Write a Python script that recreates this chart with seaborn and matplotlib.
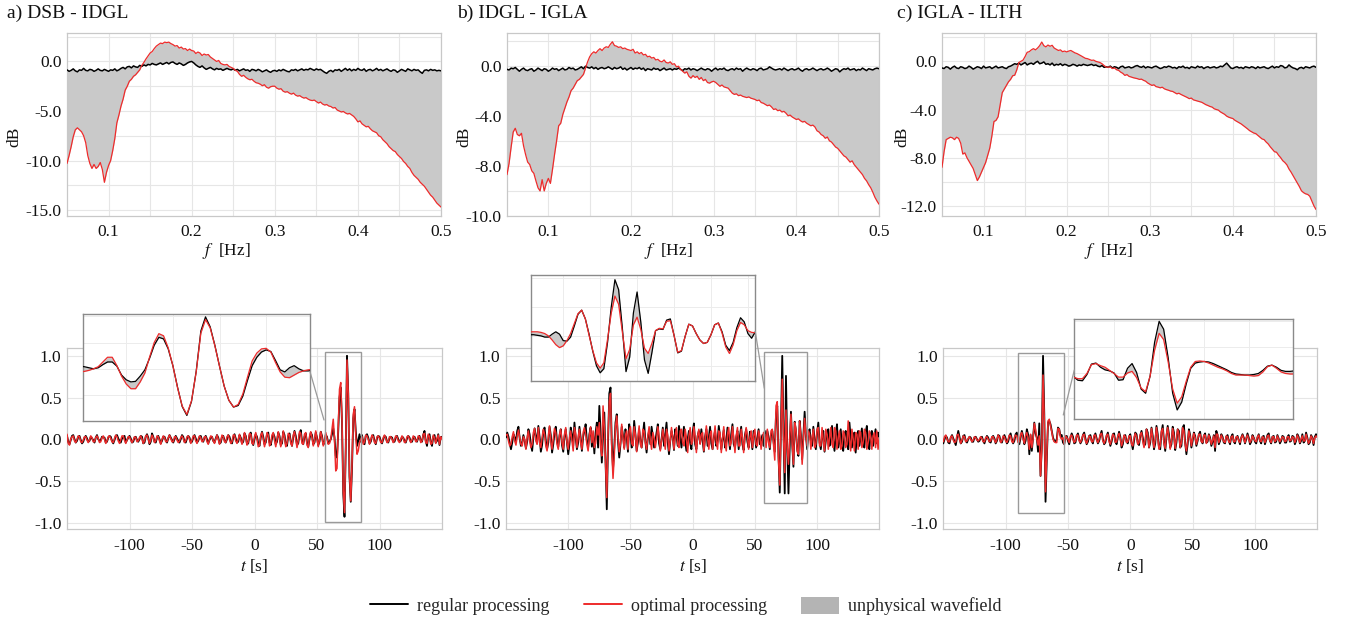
import numpy as np
import matplotlib
matplotlib.use("Agg")
import matplotlib.pyplot as plt
import seaborn as sns
from matplotlib.lines import Line2D
from matplotlib.patches import Patch, Rectangle

sns.set_theme(style="white")
plt.rcParams['font.family'] = ['Liberation Serif', 'DejaVu Serif']
plt.rcParams['mathtext.fontset'] = 'stix'
plt.rcParams['axes.unicode_minus'] = False

# ---------------- data ----------------
titles = ["a) DSB - IDGL", "b) IDGL - IGLA", "c) IGLA - ILTH"]
legend_labels = ["regular processing", "optimal processing", "unphysical wavefield"]

# spectra: frequency grid 0.05 .. 0.5 Hz, step 0.0025 Hz
f_start, f_step, f_count = 0.05, 0.0025, 181

spec_a_red = [
    -10.3, -9.5, -8.6, -7.6, -6.9, -6.7, -6.9, -7.1, -7.5, -8.2,
    -9.5, -10.3, -10.8, -10.4, -10.8, -10.6, -10.2, -10.9, -12.2, -11.2,
    -10.5, -10.0, -9.0, -7.8, -6.2, -5.4, -4.5, -3.8, -2.9, -2.5,
    -2.0, -1.8, -1.5, -1.35, -1.1, -0.85, -0.4, -0.1, 0.25, 0.55,
    0.85, 1.0, 1.3, 1.55, 1.7, 1.85, 1.8, 1.95, 1.9, 1.95,
    1.8, 1.7, 1.55, 1.6, 1.35, 1.45, 1.25, 1.3, 1.1, 1.25,
    1.1, 1.05, 0.8, 0.95, 0.85, 0.6, 0.75, 0.65, 0.7, 0.45,
    0.3, 0.15, 0.0, 0.1, -0.2, -0.3, -0.35, -0.3, -0.5, -0.6,
    -0.7, -0.9, -1.0, -1.3, -1.5, -1.4, -1.6, -1.75, -1.85, -1.8,
    -2.0, -2.15, -2.2, -2.3, -2.45, -2.35, -2.6, -2.7, -2.55, -2.5,
    -2.5, -2.7, -2.8, -2.75, -3.0, -3.1, -3.05, -3.2, -3.3, -3.2,
    -3.4, -3.5, -3.45, -3.6, -3.7, -3.65, -3.8, -3.9, -3.95, -3.9,
    -4.05, -4.2, -4.1, -4.3, -4.4, -4.35, -4.5, -4.55, -4.7, -4.65,
    -4.9, -5.0, -5.1, -5.05, -5.2, -5.3, -5.25, -5.4, -5.55, -5.8,
    -6.1, -6.0, -6.3, -6.45, -6.6, -6.55, -6.8, -7.0, -7.1, -7.2,
    -7.5, -7.6, -7.9, -8.1, -8.3, -8.6, -8.8, -9.0, -9.1, -9.4,
    -9.6, -9.8, -10.1, -10.3, -10.6, -10.8, -11.2, -11.5, -11.7, -11.9,
    -12.2, -12.4, -12.6, -12.9, -13.2, -13.5, -13.7, -14.0, -14.3, -14.5,
    -14.7]
spec_a_black = [
    -0.85, -1.0, -0.9, -0.75, -0.95, -1.05, -0.85, -0.9, -0.7, -0.9,
    -0.95, -0.8, -0.85, -1.0, -0.9, -0.75, -0.9, -0.95, -0.8, -0.9,
    -1.0, -0.85, -0.9, -0.75, -0.95, -0.85, -0.7, -0.6, -0.75, -0.55,
    -0.5, -0.65, -0.45, -0.55, -0.6, -0.4, -0.5, -0.35, -0.45, -0.3,
    -0.35, -0.2, -0.3, -0.35, -0.25, -0.15, -0.3, -0.2, -0.1, -0.25,
    -0.1, -0.05, -0.2, -0.3, -0.15, -0.25, -0.4, -0.3, -0.15, -0.05,
    0.0, -0.15, -0.35, -0.5, -0.6, -0.45, -0.65, -0.8, -0.7, -0.6,
    -0.75, -0.85, -0.7, -0.8, -0.75, -0.9, -0.8, -0.7, -0.8, -0.85,
    -0.75, -0.9, -0.8, -0.95, -0.85, -0.75, -0.9, -0.85, -1.0, -0.8,
    -0.85, -0.95, -0.8, -0.9, -1.05, -0.95, -0.85, -1.0, -1.1, -0.95,
    -0.9, -1.0, -0.85, -0.95, -0.8, -0.9, -1.0, -1.05, -0.85, -0.9,
    -0.8, -0.95, -0.85, -0.75, -0.9, -0.8, -0.85, -0.7, -0.8, -0.9,
    -0.75, -0.85, -0.8, -0.95, -1.1, -1.2, -1.0, -0.9, -1.05, -0.85,
    -0.9, -0.8, -1.0, -0.85, -0.7, -0.9, -0.75, -0.95, -0.8, -0.9,
    -0.7, -0.85, -0.9, -0.75, -1.0, -0.85, -0.8, -0.95, -0.85, -0.7,
    -0.9, -0.8, -0.95, -0.85, -0.75, -0.9, -1.0, -0.85, -0.9, -1.1,
    -0.95, -0.8, -0.9, -1.0, -0.75, -0.85, -0.95, -0.8, -0.9, -0.85,
    -1.05, -1.2, -0.9, -0.85, -0.95, -0.8, -0.9, -0.85, -0.95, -0.9,
    -0.95]
spec_b_red = [
    -8.7, -7.8, -6.5, -5.3, -5.0, -5.5, -5.6, -5.4, -6.4, -7.1,
    -7.7, -7.9, -8.4, -8.6, -9.2, -9.75, -10.0, -9.1, -10.0, -9.4,
    -9.0, -9.4, -8.3, -7.1, -6.0, -4.8, -4.6, -3.9, -3.4, -2.9,
    -2.5, -2.0, -1.8, -1.5, -1.2, -1.1, -0.9, -0.7, -0.2, 0.3,
    0.7, 0.95, 1.1, 1.0, 1.2, 1.35, 1.2, 1.4, 1.5, 1.45,
    1.7, 1.9, 1.6, 1.55, 1.45, 1.5, 1.35, 1.4, 1.3, 1.25,
    1.2, 1.3, 1.0, 1.1, 0.95, 1.05, 0.85, 0.9, 0.7, 0.75,
    0.6, 0.65, 0.45, 0.5, 0.35, 0.3, 0.45, 0.25, 0.2, 0.3,
    0.1, 0.15, -0.1, -0.05, -0.3, -0.45, -0.6, -0.5, -0.85, -1.0,
    -0.8, -0.95, -0.85, -1.1, -0.95, -1.2, -1.1, -1.35, -1.4, -1.3,
    -1.25, -1.35, -1.5, -1.65, -1.55, -1.7, -1.75, -1.8, -2.0, -2.2,
    -2.3, -2.25, -2.4, -2.35, -2.45, -2.5, -2.55, -2.5, -2.6, -2.65,
    -2.7, -2.8, -2.75, -2.95, -3.0, -3.1, -3.2, -3.15, -3.3, -3.5,
    -3.45, -3.6, -3.55, -3.7, -3.65, -3.8, -4.0, -3.95, -4.1, -4.2,
    -4.3, -4.25, -4.4, -4.5, -4.45, -4.6, -4.7, -4.8, -4.75, -4.9,
    -5.2, -5.3, -5.5, -5.6, -5.8, -5.7, -6.0, -6.1, -6.3, -6.5,
    -6.6, -6.8, -7.0, -7.2, -7.3, -7.5, -7.7, -7.6, -7.9, -8.1,
    -8.3, -8.5, -8.7, -9.0, -9.2, -9.5, -9.75, -10.1, -10.5, -10.8,
    -11.06]
spec_b_black = [
    -0.3, -0.35, -0.2, -0.25, -0.15, -0.3, -0.45, -0.3, -0.2, -0.35,
    -0.4, -0.3, -0.25, -0.45, -0.35, -0.2, -0.3, -0.4, -0.25, -0.3,
    -0.45, -0.35, -0.2, -0.3, -0.25, -0.4, -0.3, -0.2, -0.35, -0.3,
    -0.15, -0.25, -0.2, -0.35, -0.3, -0.2, -0.1, -0.25, -0.05, -0.15,
    -0.2, -0.1, -0.25, -0.15, -0.3, -0.2, -0.15, -0.25, -0.2, -0.1,
    -0.2, -0.3, -0.15, -0.25, -0.2, -0.1, -0.3, -0.2, -0.35, -0.25,
    -0.15, -0.3, -0.2, -0.25, -0.15, -0.3, -0.2, -0.4, -0.25, -0.3,
    -0.35, -0.2, -0.3, -0.25, -0.4, -0.3, -0.2, -0.35, -0.3, -0.25,
    -0.35, -0.25, -0.3, -0.2, -0.3, -0.4, -0.25, -0.3, -0.2, -0.35,
    -0.25, -0.3, -0.4, -0.3, -0.2, -0.3, -0.35, -0.25, -0.3, -0.45,
    -0.3, -0.2, -0.35, -0.25, -0.3, -0.2, -0.35, -0.4, -0.3, -0.25,
    -0.35, -0.2, -0.3, -0.25, -0.45, -0.3, -0.2, -0.3, -0.35, -0.25,
    -0.3, -0.4, -0.25, -0.2, -0.35, -0.3, -0.25, -0.1, -0.2, -0.3,
    -0.35, -0.3, -0.25, -0.35, -0.2, -0.3, -0.4, -0.3, -0.25, -0.35,
    -0.3, -0.2, -0.35, -0.45, -0.3, -0.25, -0.35, -0.3, -0.2, -0.3,
    -0.4, -0.3, -0.25, -0.35, -0.3, -0.2, -0.3, -0.45, -0.35, -0.25,
    -0.3, -0.5, -0.35, -0.25, -0.3, -0.2, -0.35, -0.3, -0.25, -0.4,
    -0.3, -0.35, -0.2, -0.3, -0.4, -0.25, -0.3, -0.35, -0.25, -0.2,
    -0.25]
spec_c_red = [
    -8.8, -7.5, -6.5, -6.4, -6.3, -6.35, -6.5, -6.3, -6.4, -6.8,
    -7.7, -7.6, -8.0, -8.3, -8.6, -8.9, -9.4, -9.9, -9.6, -9.2,
    -8.8, -8.4, -7.8, -7.2, -6.2, -5.0, -4.9, -4.6, -3.6, -2.6,
    -2.3, -2.0, -1.7, -1.5, -1.2, -1.15, -0.7, -0.1, 0.0, 0.1,
    0.4, 0.75, 0.8, 0.95, 1.05, 0.95, 1.1, 1.3, 1.6, 1.3,
    1.2, 1.35, 1.25, 1.33, 1.1, 1.0, 0.9, 0.95, 0.8, 0.85,
    0.78, 0.85, 0.9, 0.8, 0.7, 0.64, 0.55, 0.45, 0.35, 0.25,
    0.22, 0.15, 0.08, 0.1, 0.0, -0.05, -0.1, -0.2, -0.35, -0.47,
    -0.5, -0.45, -0.6, -0.55, -0.7, -0.75, -0.9, -1.0, -1.17, -1.1,
    -1.25, -1.3, -1.36, -1.4, -1.44, -1.5, -1.48, -1.58, -1.65, -1.8,
    -1.9, -2.0, -1.95, -2.1, -2.14, -2.2, -2.15, -2.28, -2.35, -2.4,
    -2.47, -2.5, -2.6, -2.7, -2.65, -2.75, -2.83, -2.9, -3.0, -3.1,
    -3.05, -3.2, -3.25, -3.3, -3.35, -3.4, -3.5, -3.6, -3.67, -3.75,
    -3.8, -3.94, -4.0, -4.05, -4.2, -4.3, -4.4, -4.55, -4.64, -4.7,
    -4.75, -4.9, -5.0, -5.1, -5.2, -5.33, -5.45, -5.6, -5.75, -5.85,
    -5.95, -6.0, -6.15, -6.3, -6.44, -6.5, -6.7, -6.86, -7.1, -7.3,
    -7.5, -7.55, -7.8, -8.0, -8.25, -8.4, -8.6, -8.94, -9.2, -9.5,
    -9.8, -10.1, -10.4, -10.75, -10.9, -11.0, -11.05, -11.2, -11.6, -12.0,
    -12.3]
spec_c_black = [
    -0.55, -0.6, -0.45, -0.5, -0.65, -0.5, -0.4, -0.55, -0.6, -0.45,
    -0.5, -0.6, -0.55, -0.4, -0.5, -0.65, -0.55, -0.45, -0.5, -0.6,
    -0.4, -0.55, -0.5, -0.45, -0.6, -0.5, -0.4, -0.55, -0.5, -0.45,
    -0.55, -0.6, -0.45, -0.4, -0.3, -0.2, -0.25, -0.15, -0.3, -0.2,
    -0.1, -0.3, -0.2, -0.15, -0.25, -0.1, 0.0, -0.2, -0.15, -0.05,
    -0.25, -0.2, -0.3, -0.15, -0.35, -0.25, -0.3, -0.2, -0.35, -0.25,
    -0.3, -0.4, -0.35, -0.25, -0.3, -0.4, -0.3, -0.35, -0.25, -0.3,
    -0.35, -0.3, -0.25, -0.35, -0.3, -0.4, -0.45, -0.35, -0.5, -0.45,
    -0.5, -0.4, -0.55, -0.45, -0.5, -0.6, -0.45, -0.4, -0.55, -0.5,
    -0.45, -0.55, -0.5, -0.4, -0.35, -0.45, -0.5, -0.4, -0.55, -0.45,
    -0.5, -0.55, -0.45, -0.4, -0.5, -0.6, -0.55, -0.45, -0.5, -0.4,
    -0.45, -0.55, -0.5, -0.6, -0.45, -0.5, -0.4, -0.55, -0.5, -0.6,
    -0.45, -0.5, -0.55, -0.4, -0.5, -0.45, -0.6, -0.5, -0.45, -0.55,
    -0.5, -0.45, -0.55, -0.5, -0.4, -0.45, -0.3, -0.15, -0.35, -0.55,
    -0.6, -0.5, -0.45, -0.55, -0.5, -0.6, -0.45, -0.5, -0.55, -0.45,
    -0.5, -0.6, -0.45, -0.55, -0.5, -0.45, -0.55, -0.6, -0.5, -0.4,
    -0.55, -0.45, -0.5, -0.35, -0.4, -0.55, -0.5, -0.3, -0.45, -0.55,
    -0.6, -0.7, -0.55, -0.5, -0.6, -0.45, -0.5, -0.55, -0.45, -0.4,
    -0.5]

# waveforms: time grid -150 .. 150 s, step 1 s
t_start, t_step, t_count = -150, 1, 301

wave_a_black = [
    .04, -.03, -.06, -.01, .04, .05, .00, -.04, -.02, .03,
    .04, -.01, -.05, -.03, .02, .04, .01, -.03, -.02, .03,
    .01, -.01, -.04, .02, .05, .00, -.02, -.01, .03, .02,
    .02, -.04, -.03, .02, .04, .03, -.02, -.05, -.01, .04,
    .05, .01, -.02, -.04, .01, .02, .04, -.04, -.01, .02,
    .04, .01, -.04, -.03, .02, .03, -.01, -.03, .00, .04,
    .03, -.05, -.04, .03, .06, .02, -.06, -.03, .07, .03,
    -.03, -.04, .02, .04, .00, -.05, -.02, .03, .03, -.01,
    -.04, .01, .05, .02, -.01, -.04, .00, .04, .01, -.02,
    -.04, .00, .05, .03, -.03, -.04, .01, .04, .02, -.04,
    -.03, .02, .05, .01, -.04, -.02, .03, .04, -.01, -.03,
    .02, .04, .00, -.05, -.01, .02, .03, -.02, -.04, .01,
    .05, .02, -.05, -.04, .03, .04, -.01, -.04, .00, .05,
    .03, -.03, -.05, .02, .06, .01, -.04, -.03, .05, .02,
    -.05, -.03, .07, .04, -.06, -.05, .05, .08, -.03, -.07,
    .00, .06, .03, -.05, -.08, .02, .09, .03, -.06, -.04,
    .06, .08, -.04, -.07, .01, .07, .03, -.06, -.03, .08,
    .04, -.07, -.05, .09, .05, -.06, -.08, .04, .07, -.02,
    -.08, .02, .10, .04, -.07, -.05, .06, .11, -.02, -.06,
    .03, .07, -.04, -.09, .00, .08, .05, -.06, -.04, .08,
    .02, -.07, -.03, .09, .04, -.06, -.05, .05, .03, -.05,
    -.03, .00, .06, .13, .02, -.20, -.22, .10, .50, .62,
    .20, -.65, -.93, -.10, 1.0, .55, -.45, -.75, -.35, .25,
    .36, .10, -.08, -.02, .06, -.03, .05, -.04, -.06, .04,
    .06, .02, -.05, -.03, .04, .05, -.02, -.06, .01, .04,
    .03, -.02, -.05, .00, .04, .03, -.03, -.04, .01, .03,
    .02, -.03, -.03, .02, .04, .00, -.03, -.02, .03, .02,
    -.02, -.04, .01, .04, .02, -.03, -.03, .02, .03, -.01,
    -.03, .02, .04, -.02, -.03, .05, .10, -.02, -.08, .04,
    .06, -.03, -.08, .03, .05, -.04, -.02, .06, -.07, .02, .03]
wave_a_red = [
    .06, -.05, -.07, .00, .03, .04, -.02, -.04, .00, .04,
    .03, -.03, -.04, -.01, .03, .03, -.01, -.04, -.01, .04,
    .02, -.03, -.03, .02, .04, .01, -.04, -.03, .02, .04,
    .00, -.05, -.02, .03, .04, .01, -.03, -.04, .01, .05,
    .03, -.02, -.05, -.01, .04, .04, -.01, -.05, -.01, .03,
    .03, -.01, -.04, -.01, .03, .02, -.03, -.02, .02, .04,
    .00, -.05, -.02, .04, .05, .00, -.05, -.01, .05, .02,
    -.04, -.02, .04, .03, -.02, -.06, .00, .04, .02, -.03,
    -.03, .02, .05, .01, -.03, -.03, .03, .03, -.01, -.04,
    -.02, .02, .04, .01, -.04, -.02, .03, .04, .00, -.05,
    -.01, .04, .04, -.02, -.05, .00, .04, .02, -.03, -.02,
    .03, .03, -.03, -.06, .00, .04, .03, -.02, -.05, .00,
    .05, .00, -.06, -.02, .05, .03, -.03, -.04, .03, .05,
    .00, -.05, -.03, .05, .05, -.02, -.05, .00, .06, .00,
    -.06, .00, .08, .02, -.07, -.03, .07, .06, -.05, -.06,
    .03, .08, .00, -.09, -.07, .05, .08, .00, -.09, -.02,
    .08, .05, -.08, -.05, .05, .08, -.01, -.09, .00, .09,
    .02, -.09, -.02, .10, .02, -.09, -.05, .07, .05, -.05,
    -.08, .05, .09, .00, -.10, -.02, .09, .07, -.05, -.06,
    .06, .08, -.07, -.10, .03, .09, .02, -.08, -.02, .10,
    .00, -.09, .00, .09, .02, -.08, -.03, .08, .01, -.06,
    -.05, .00, .12, .24, .00, -.38, -.35, .15, .60, .68,
    .22, -.62, -.88, -.10, .95, .55, -.43, -.74, -.30, .30,
    .39, .05, -.18, -.14, -.04, .00, .03, -.06, -.03, .05,
    .04, .00, -.06, -.01, .05, .03, -.04, -.05, .03, .04,
    .01, -.04, -.04, .02, .05, .01, -.04, -.03, .03, .03,
    .00, -.04, -.01, .04, .03, -.02, -.04, .00, .04, .01,
    -.04, -.03, .03, .04, .00, -.04, -.01, .04, .02, -.03,
    -.02, .04, .03, -.04, -.02, .06, .07, -.04, -.05, .06,
    .03, -.06, -.05, .05, .02, -.05, .01, .05, -.06, .03, .00]
wave_b_black = [
    .02, .08, .03, -.05, -.12, -.04, .06, .02, -.03, .10,
    .15, .01, -.08, -.04, .05, -.02, -.11, -.03, .12, .06,
    -.06, -.14, .02, .13, .04, -.05, .16, .03, -.15, -.07,
    .10, .14, -.02, -.12, -.04, .15, .05, -.16, -.06, .08,
    .15, -.02, -.09, .04, .12, -.07, -.15, .03, .12, -.04,
    -.18, -.06, .14, .06, -.08, .20, .02, -.12, -.04, .15,
    .02, -.14, .03, .10, .18, -.02, -.10, .06, .14, -.09,
    .05, -.17, .08, .20, -.10, .40, .10, -.28, .05, .32,
    -.25, -.84, -.05, .55, .62, -.05, -.36, -.10, .20, .30,
    -.02, -.22, -.06, .15, .05, -.10, .12, .03, -.15, .18,
    .06, -.10, -.04, .22, .06, -.14, -.04, .12, -.02, -.10,
    .05, .20, -.02, -.16, .02, .10, -.06, .15, .04, -.10,
    -.03, .08, .18, -.05, -.12, .00, .14, -.08, .06, .20,
    -.04, -.18, -.02, .10, .03, -.13, .12, .04, -.08, .16,
    .05, -.10, .02, .15, -.03, -.14, .00, .10, -.04, -.12,
    .08, .19, -.06, -.12, .04, .10, -.05, .12, -.02, -.15,
    .03, .12, -.08, .02, .15, -.05, -.12, .02, .10, -.08,
    -.03, .16, .04, -.12, .00, .11, -.10, -.03, .14, .01,
    -.12, .06, .18, -.06, -.10, .02, .10, -.12, .04, .15,
    -.06, -.13, .05, .12, -.03, -.10, .09, .02, -.12, .10,
    .06, -.10, .02, .12, -.06, -.02, .05, -.08, .10, -.04,
    .10, .03, -.12, .05, .10, -.02, -.15, .30, .40, -.20,
    -.64, .15, 1.0, .10, -.65, .76, -.10, -.65, -.10, .33,
    -.05, -.33, .21, .10, -.12, -.20, .22, .05, -.24, .05,
    .33, .05, -.12, .08, .12, -.02, -.08, .15, .00, -.12,
    .08, .20, -.04, -.12, .02, .10, -.15, -.02, .09, .12,
    -.08, -.02, .16, -.02, -.14, .06, .18, -.10, -.03, .12,
    -.08, -.14, .06, .10, -.02, -.12, .20, .02, -.10, .05,
    .08, -.16, .04, .10, -.08, .02, .13, -.06, -.10, .08,
    .16, -.05, -.12, .06, .10, -.08, .02, .12, -.05, .08, .03]
wave_b_red = [
    .05, .06, -.02, -.08, -.06, .03, .09, -.02, -.07, .04,
    .11, .02, -.06, -.08, .03, .00, -.12, .02, .10, -.02,
    -.10, -.06, .08, .13, -.02, -.06, .14, -.04, -.10, .02,
    .12, .06, -.08, -.14, .04, .16, -.02, -.12, .00, .13,
    .08, -.06, -.12, .06, .12, -.04, -.12, .06, .14, -.04,
    -.12, .02, .10, -.02, -.14, .14, .06, -.10, .02, .12,
    -.04, -.12, .08, .14, .06, -.06, -.14, .04, .15, -.04,
    .10, -.10, -.05, .15, .05, .20, -.10, -.20, .40, .15,
    -.30, -.70, .05, .45, .55, -.10, -.47, -.20, .15, .28,
    .02, -.15, -.05, .18, .02, -.12, .05, .10, -.12, .10,
    .15, -.05, -.08, .15, .05, -.15, .02, .16, -.06, -.10,
    .12, .10, -.04, -.12, .04, .15, -.02, -.12, .08, .02,
    -.10, .00, .15, .04, -.14, -.02, .12, .02, -.12, .12,
    .04, -.14, -.02, .14, .02, -.12, .04, .14, -.06, -.10,
    .10, .12, -.04, -.08, .12, .02, -.16, .04, .14, -.06,
    -.02, .15, .02, -.16, .04, .12, -.06, .06, .08, -.14,
    .00, .16, .02, -.12, .06, .10, -.12, .00, .16, -.02,
    -.12, .10, .08, -.16, .00, .15, -.04, -.14, .06, .14,
    -.08, -.04, .15, .02, -.16, .04, .14, -.08, -.08, .12,
    .02, -.16, .02, .14, .04, -.12, .02, .10, -.10, .04,
    .12, -.06, -.08, .10, .04, -.12, .00, .08, .06, -.10,
    .12, -.04, -.10, .10, .12, -.06, -.25, .40, .45, -.25,
    -.55, .15, .72, .05, -.40, .35, -.10, -.30, .02, .30,
    -.05, -.30, .20, .12, -.14, -.18, .22, .02, -.30, .00,
    .25, .05, -.08, .10, .06, -.12, .02, .12, -.10, -.06,
    .12, .14, -.08, -.08, .14, -.02, -.14, .12, .06, -.12,
    .02, .14, -.06, -.10, .14, .10, -.12, .02, .10, -.12,
    -.08, .10, .06, -.10, -.06, .22, -.02, -.14, .12, .00,
    -.14, .08, .06, -.12, .10, .08, -.10, -.04, .12, .08,
    -.12, -.04, .10, .04, -.12, .04, .08, -.10, .10, -.12, .02]
wave_c_black = [
    -.05, .00, .04, .02, -.04, -.05, .02, .05, .01, -.03,
    -.07, .02, .10, .03, -.05, -.03, .04, .05, -.02, -.04,
    .00, .03, .02, -.03, -.03, .02, .03, .00, -.03, -.02,
    .02, .03, -.02, -.05, .00, .04, .02, -.03, -.04, .02,
    .04, .01, -.05, -.02, .05, .04, -.03, -.04, .02, .05,
    .01, -.05, -.03, .04, .07, .00, -.05, -.02, .06, .08,
    -.01, -.06, .02, .10, .04, -.06, -.02, .12, .06, -.18,
    .05, -.14, .02, .20, .07, .02, -.15, .19, -.44, -.10,
    1.0, .30, -.75, -.25, .20, .22, .18, .10, .02, -.02,
    -.03, .00, .14, .12, .04, .05, -.04, -.06, .03, .04,
    -.02, -.06, .02, .07, .03, -.05, -.04, .04, .07, .00,
    -.05, -.02, .05, .08, .01, -.06, -.03, .04, .05, -.02,
    -.05, .03, .07, .01, -.05, -.02, .05, .10, .00, -.06,
    -.04, .04, .08, .00, -.08, -.03, .06, .07, -.03, -.06,
    .02, .09, .03, -.10, -.06, .04, .05, -.03, -.05, .03,
    .06, -.04, -.12, -.02, .08, .06, -.05, -.07, .04, .10,
    .02, -.08, -.06, .12, .08, -.10, -.04, .14, .04, -.12,
    -.05, .16, .06, -.10, -.12, .08, .17, -.02, -.14, .02,
    .16, .06, -.10, -.06, .15, .08, -.13, -.04, .12, .10,
    -.10, -.08, .14, .17, -.04, -.18, -.06, .12, .05, -.10,
    -.02, .08, .04, -.08, -.02, .06, .09, -.02, -.05, .04,
    .07, -.04, -.03, .06, .02, -.08, -.03, .05, -.14, .10,
    .05, -.06, -.02, .06, .03, -.04, -.05, .03, .05, -.02,
    -.06, .03, .06, -.03, -.05, .02, .04, -.01, -.06, .02,
    .06, .02, -.05, .00, .07, .02, -.06, -.03, .05, .02,
    -.03, -.05, .02, .06, -.02, -.05, .03, .04, -.06, -.01,
    .05, .07, -.02, -.05, .03, .04, -.04, -.03, .05, .01,
    -.05, -.02, .04, .03, -.04, -.04, .02, .05, -.03, -.02,
    .04, .03, -.06, -.02, .06, .03, -.05, -.02, .06, -.04,
    -.02, .08, .02, -.06, -.04, .05, .02, -.07, .03, .06, .03]
wave_c_red = [
    -.03, .03, .05, .00, -.03, -.03, .03, .04, -.01, -.04,
    -.03, .05, .06, .00, -.05, -.01, .04, .03, -.03, -.02,
    .01, .03, .00, -.03, -.01, .03, .02, -.01, -.02, .00,
    .03, .01, -.03, -.03, .02, .03, .00, -.03, -.02, .03,
    .03, -.01, -.04, .00, .05, .02, -.04, -.02, .04, .03,
    -.02, -.04, .00, .05, .04, -.03, -.04, .02, .05, .04,
    -.04, -.03, .06, .08, .00, -.05, .04, .08, .02, -.12,
    .06, -.10, .00, .19, .12, .00, -.07, .04, -.44, -.10,
    .77, .25, -.63, -.20, .22, .24, .16, .09, .00, -.03,
    -.04, -.04, .13, .12, .02, .00, .02, -.06, .04, .02,
    .00, -.04, .04, .05, .00, -.04, -.02, .05, .05, -.02,
    -.04, .00, .05, .06, -.02, -.05, .00, .04, .03, -.03,
    -.03, .05, .05, -.01, -.04, .00, .06, .07, -.02, -.05,
    -.01, .05, .06, -.03, -.06, .00, .06, .04, -.04, -.03,
    .04, .07, .00, -.08, -.03, .05, .03, -.04, -.03, .04,
    .04, -.06, -.08, .02, .07, .03, -.06, -.04, .06, .08,
    -.02, -.10, .00, .12, .04, -.10, .00, .13, .00, -.10,
    .00, .14, .02, -.12, -.08, .10, .13, -.05, -.11, .06,
    .14, .02, -.12, -.02, .13, .04, -.11, .00, .12, .06,
    -.10, -.04, .14, .10, -.06, -.14, -.02, .10, .03, -.08,
    .01, .07, .02, -.06, .00, .06, .06, -.03, -.04, .05,
    .05, -.05, -.01, .05, .00, -.06, -.01, .04, -.10, .06,
    .06, -.04, .00, .05, .01, -.03, -.04, .04, .03, -.03,
    -.04, .03, .04, -.03, -.03, .03, .03, -.02, -.04, .02,
    .05, .00, -.04, .02, .05, .00, -.04, -.01, .04, .01,
    -.02, -.03, .03, .05, -.02, -.03, .03, .02, -.04, .00,
    .04, .05, -.02, -.04, .03, .03, -.03, -.01, .04, .00,
    -.03, .00, .03, .02, -.03, -.02, .03, .03, -.02, -.01,
    .03, .02, -.04, .00, .05, .01, -.04, .00, .04, -.02,
    -.02, .06, .00, -.05, -.02, .04, .01, -.05, .02, .04, .02]

# inset (magnified) waveforms, step 0.5 s
inset_a_start = 60.0
inset_a_black = [
    .05, .04, .02, .00, .02, .08, .13, .13, .05, -.12,
    -.21, -.25, -.24, -.14, -.02, .20, .45, .60, .57, .38,
    .06, -.35, -.72, -.89, -.62, -.05, .72, .99, .80, .45,
    .05, -.33, -.60, -.73, -.70, -.52, -.22, .06, .22, .32,
    .36, .33, .16, -.02, -.06, .02, .06, .00, -.04, -.04,
    -.03]
inset_a_red = [
    -.06, -.05, -.03, .00, .04, .13, .22, .22, .06, -.14,
    -.29, -.38, -.38, -.25, -.08, .22, .50, .67, .63, .40,
    .06, -.36, -.71, -.87, -.61, -.06, .68, .94, .78, .44,
    .05, -.33, -.60, -.73, -.68, -.48, -.16, .15, .30, .38,
    .39, .32, .12, -.06, -.16, -.17, -.12, -.07, -.04, -.02,
    -.01]
inset_b_start = 60.5
inset_b_black = [
    .03, .03, .02, .01, -.01, -.01, .04, .08, .04, -.07,
    -.08, -.01, .18, .38, .45, .30, .04, -.25, -.50, -.62,
    -.55, -.10, .50, .97, .80, .15, -.60, -.35, .40, .76,
    .25, -.40, -.63, -.28, .10, .13, .12, .28, .30, .02,
    -.28, -.25, .00, .21, .18, .05, -.06, -.12, -.10, .03,
    .20, .23, .08, -.15, -.24, -.10, .15, .32, .25, .05,
    -.03, .08]
inset_b_red = [
    .08, .08, .08, .07, .05, .01, -.06, -.14, -.19, -.16,
    -.07, .05, .22, .39, .45, .30, .02, -.24, -.45, -.54,
    -.45, -.05, .40, .69, .55, .08, -.38, -.22, .20, .33,
    .12, -.20, -.29, -.12, .10, .14, .13, .26, .27, .02,
    -.27, -.24, .00, .21, .18, .05, -.06, -.12, -.10, .03,
    .20, .23, .06, -.18, -.29, -.14, .10, .24, .20, .10,
    .07, .065]
inset_c_start = -79.5
inset_c_black = [
    -.06, -.13, -.14, -.02, .18, .20, .12, .07, .05, .01,
    -.13, -.12, .10, .19, .02, -.30, -.38, -.05, .60, 1.0,
    .85, .30, -.38, -.70, -.55, -.20, .10, .20, .22, .23,
    .22, .19, .15, .11, .07, .02, -.01, -.02, -.03, -.03,
    -.02, .00, .06, .14, .16, .12, .06, .04, .04, .05]
inset_c_red = [
    -.07, -.10, -.10, .00, .17, .19, .15, .12, .06, .00,
    -.07, -.07, .01, .04, -.08, -.28, -.35, -.05, .45, .77,
    .65, .22, -.30, -.57, -.45, -.15, .12, .23, .24, .23,
    .20, .16, .12, .09, .05, .00, -.03, -.03, -.03, -.04,
    -.05, -.04, .03, .13, .16, .10, .03, .00, -.01, -.01]

for arr in (spec_a_red, spec_a_black, spec_b_red, spec_b_black, spec_c_red, spec_c_black):
    assert len(arr) == f_count, len(arr)
for arr in (wave_a_black, wave_a_red, wave_b_black, wave_b_red, wave_c_black, wave_c_red):
    assert len(arr) == t_count, len(arr)
assert len(inset_a_black) == len(inset_a_red)
assert len(inset_b_black) == len(inset_b_red)
assert len(inset_c_black) == len(inset_c_red)

freq = np.round(f_start + f_step * np.arange(f_count), 5)
tt = t_start + t_step * np.arange(t_count)

# ---------------- styling ----------------
W, H = 1347, 621
RED = '#ee2b2b'
FILL = '#c9c9c9'
GRID = '#e6e6e6'
SPINE = '#c8c8c8'
BOX = '#9a9a9a'
TICKFS = 12.5


def rect(l, t, r, b):
    return [l / W, 1 - b / H, (r - l) / W, (b - t) / H]


def style_axes(ax):
    ax.set_facecolor('white')
    for s in ax.spines.values():
        s.set_color(SPINE)
        s.set_linewidth(0.9)
    ax.set_axisbelow(True)
    ax.grid(True, which='both', color=GRID, lw=0.8)
    ax.tick_params(which='both', length=0, labelsize=TICKFS, colors='#111111')
    ax.tick_params(axis='y', pad=4)
    ax.tick_params(axis='x', pad=6)
    ax.set_xlabel('')
    ax.set_ylabel('')


fig = plt.figure(figsize=(W / 100, H / 100), dpi=100)
fig.patch.set_facecolor('white')

# ---------- top row: spectra ----------
spec_specs = [
    (rect(67, 33, 441, 216), spec_a_black, spec_a_red, (-15.6, 2.87),
     [0, -5, -10, -15], ['0.0', '-5.0', '-10.0', '-15.0'], [2.5, -2.5, -7.5, -12.5]),
    (rect(507, 33, 879, 216), spec_b_black, spec_b_red, (-12.0, 2.6),
     [0, -4, -8, -12], ['0.0', '-4.0', '-8.0', '-10.0'], [2, -2, -6, -10]),
    (rect(942, 33, 1316, 216), spec_c_black, spec_c_red, (-12.84, 2.35),
     [0, -4, -8, -12], ['0.0', '-4.0', '-8.0', '-12.0'], [2, -2, -6, -10]),
]
for pos, blk, red, ylim, yt, ytl, ymin in spec_specs:
    ax = fig.add_axes(pos)
    ax.fill_between(freq, blk, red, color=FILL, lw=0, zorder=1)
    sns.lineplot(x=freq, y=blk, ax=ax, color='black', lw=1.1, estimator=None, zorder=3)
    sns.lineplot(x=freq, y=red, ax=ax, color=RED, lw=0.9, estimator=None, zorder=3)
    ax.set_xlim(0.05, 0.5)
    ax.set_ylim(*ylim)
    ax.set_xticks([0.1, 0.2, 0.3, 0.4, 0.5])
    ax.set_xticklabels(['0.1', '0.2', '0.3', '0.4', '0.5'])
    ax.set_xticks([0.15, 0.25, 0.35, 0.45], minor=True)
    ax.set_yticks(yt)
    ax.set_yticklabels(ytl)
    ax.set_yticks(ymin, minor=True)
    style_axes(ax)

# ---------- bottom row: waveforms ----------
wave_specs = [
    (rect(67, 347.5, 442, 529.3), wave_a_black, wave_a_red, (56.0, -0.99, 85.5, 1.045),
     rect(83.3, 314, 310, 420.7), inset_a_start, inset_a_black, inset_a_red, (60.4, 84.7), (-0.99, 1.045),
     [65, 70, 75, 80], ((310, 371.7), (324, 420))),
    (rect(506, 347.5, 879.3, 529.3), wave_b_black, wave_b_red, (57.6, -0.76, 91.8, 1.05),
     rect(530.7, 275, 755.3, 381), inset_b_start, inset_b_black, inset_b_red, (60.6, 91.0), (-0.76, 1.05),
     [65, 70, 75, 80, 85, 90], ((755.3, 331.7), (764.3, 388.3))),
    (rect(943.3, 347.5, 1317.3, 529.3), wave_c_black, wave_c_red, (-89.8, -0.88, -53.4, 1.04),
     rect(1074.3, 319.3, 1292.7, 419.3), inset_c_start, inset_c_black, inset_c_red, (-79.4, -55.2), (-0.88, 1.04),
     [-75, -70, -65, -60], ((1063.3, 415), (1074.3, 370))),
]
for (pos, blk, red, box, ipos, istart, iblk, ired, ixlim, iylim, igrid, conn) in wave_specs:
    ax = fig.add_axes(pos)
    sns.lineplot(x=tt, y=blk, ax=ax, color='black', lw=1.3, estimator=None, zorder=3)
    sns.lineplot(x=tt, y=red, ax=ax, color=RED, lw=1.1, estimator=None, zorder=4)
    ax.set_xlim(-150, 150)
    ax.set_ylim(-1.08, 1.10)
    ax.set_xticks([-100, -50, 0, 50, 100])
    ax.set_xticklabels(['-100', '-50', '0', '50', '100'])
    ax.set_yticks([-1.0, -0.5, 0.0, 0.5, 1.0])
    ax.set_yticklabels(['-1.0', '-0.5', '0.0', '0.5', '1.0'])
    style_axes(ax)
    x0, y0, x1, y1 = box
    ax.add_patch(Rectangle((x0, y0), x1 - x0, y1 - y0, fill=False,
                           edgecolor=BOX, lw=1.0, zorder=6))

    # inset
    iax = fig.add_axes(ipos)
    it = istart + 0.5 * np.arange(len(iblk))
    iax.fill_between(it, iblk, ired, color=FILL, lw=0, zorder=1)
    sns.lineplot(x=it, y=iblk, ax=iax, color='black', lw=0.9, estimator=None, zorder=3)
    sns.lineplot(x=it, y=ired, ax=iax, color=RED, lw=0.9, estimator=None, zorder=4)
    iax.set_xlim(*ixlim)
    iax.set_ylim(*iylim)
    iax.set_xticks(igrid)
    iax.set_yticks([-0.5, 0.0, 0.5, 1.0])
    iax.set_facecolor('white')
    iax.set_axisbelow(True)
    iax.grid(True, color='#ececec', lw=0.7)
    iax.tick_params(length=0, labelbottom=False, labelleft=False)
    iax.set_xlabel('')
    iax.set_ylabel('')
    for s in iax.spines.values():
        s.set_color('#8a8a8a')
        s.set_linewidth(1.0)

    (cx0, cy0), (cx1, cy1) = conn
    fig.add_artist(Line2D([cx0 / W, cx1 / W], [1 - cy0 / H, 1 - cy1 / H],
                          transform=fig.transFigure, color=BOX, lw=0.9))

# ---------- texts ----------
for x, s in zip([7, 456.7, 896.7], titles):
    fig.text(x / W, 1 - 13 / H, s, fontsize=14, ha='left', va='center', color='#111111')
for x in [14, 464, 902]:
    fig.text(x / W, 1 - 137 / H, 'dB', fontsize=TICKFS, rotation=90,
             ha='center', va='center', color='#111111')
for x in [226, 668, 1108]:
    fig.text(x / W, 1 - 251 / H, r'$f$  [Hz]', fontsize=TICKFS,
             ha='center', va='center', color='#111111')
for x in [254.5, 693, 1130]:
    fig.text(x / W, 1 - 566 / H, r'$t$ [s]', fontsize=TICKFS,
             ha='center', va='center', color='#111111')

# ---------- legend ----------
handles = [Line2D([], [], color='black', lw=1.4),
           Line2D([], [], color=RED, lw=1.4),
           Patch(facecolor='#b4b4b4', edgecolor='none')]
fig.legend(handles, legend_labels, loc='center', bbox_to_anchor=(686 / W, 1 - 606 / H),
           ncol=3, frameon=False, fontsize=13, handlelength=2.1, handleheight=1.1,
           handletextpad=0.5, columnspacing=1.9)

fig.savefig('out.png', dpi=100, facecolor='white')
